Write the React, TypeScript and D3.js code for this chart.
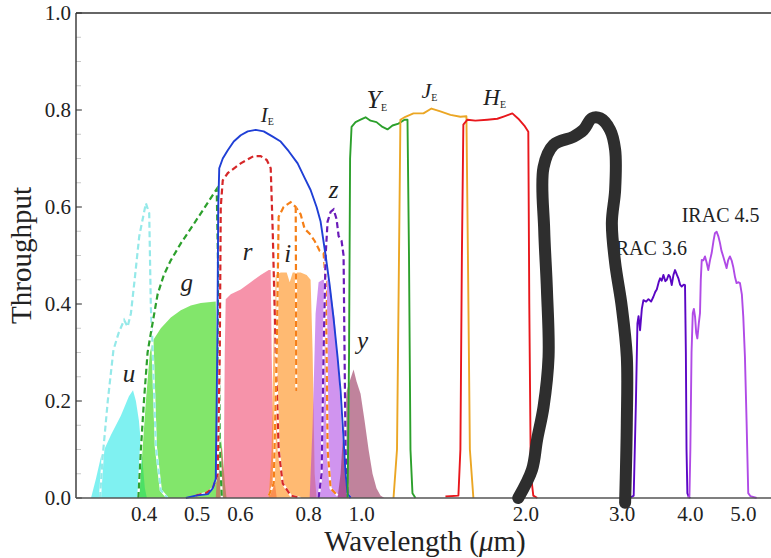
import * as d3 from 'd3'

type Pt = [number, number]

// filter curves: [wavelength (µm), throughput]
const uFill: Pt[] = [[0.3196, 0], [0.3264, 0.04], [0.3333, 0.085], [0.3476, 0.13], [0.3626, 0.17], [0.375, 0.21], [0.3815, 0.222], [0.3862, 0.2], [0.3911, 0.16], [0.3961, 0.09], [0.4011, 0.02], [0.4045, 0]]
const uDash: Pt[] = [[0.3319, 0], [0.3357, 0.085], [0.343, 0.2], [0.3513, 0.305], [0.359, 0.34], [0.3675, 0.367], [0.3729, 0.353], [0.3782, 0.381], [0.385, 0.46], [0.3916, 0.539], [0.4028, 0.608], [0.4085, 0.587], [0.4113, 0.394], [0.4144, 0.312], [0.4201, 0.106], [0.429, 0.016], [0.4413, 0]]
const gFill: Pt[] = [[0.3902, 0], [0.3961, 0.08], [0.4028, 0.2], [0.4097, 0.3], [0.4149, 0.325], [0.429, 0.35], [0.4474, 0.372], [0.4667, 0.387], [0.4868, 0.397], [0.5077, 0.402], [0.5295, 0.404], [0.5408, 0.405], [0.5454, 0.2], [0.55, 0.14], [0.556, 0.1], [0.562, 0.03], [0.566, 0]]
const gDash: Pt[] = [[0.3902, 0], [0.3944, 0.1], [0.3995, 0.2], [0.4057, 0.3], [0.4113, 0.34], [0.4232, 0.42], [0.4345, 0.46], [0.4474, 0.49], [0.4667, 0.525], [0.493, 0.565], [0.5223, 0.608], [0.543, 0.637], [0.5477, 0.4], [0.55, 0.1], [0.5548, 0]]
const rFill: Pt[] = [[0.5408, 0], [0.5477, 0.12], [0.555, 0.1], [0.5594, 0.05], [0.5617, 0.3], [0.564, 0.41], [0.5761, 0.42], [0.6008, 0.43], [0.6266, 0.445], [0.6535, 0.46], [0.6761, 0.47], [0.6818, 0.47], [0.6846, 0.3], [0.6905, 0.05], [0.6994, 0]]
const rDash: Pt[] = [[0.4971, 0.005], [0.5186, 0.01], [0.534, 0.02], [0.5454, 0.05], [0.55, 0.3], [0.5523, 0.6], [0.557, 0.655], [0.5689, 0.67], [0.6008, 0.69], [0.6346, 0.705], [0.6535, 0.705], [0.6706, 0.697], [0.6818, 0.68], [0.6876, 0.55], [0.6964, 0.3], [0.705, 0.1], [0.7171, 0.03], [0.7417, 0.005], [0.7735, 0]]
const iE: Pt[] = [[0.4767, 0], [0.4971, 0.005], [0.5231, 0.008], [0.534, 0.02], [0.5408, 0.04], [0.5442, 0.3], [0.5465, 0.6], [0.5488, 0.68], [0.557, 0.7], [0.5689, 0.717], [0.5834, 0.735], [0.6008, 0.748], [0.6188, 0.756], [0.6401, 0.759], [0.6619, 0.756], [0.6876, 0.745], [0.7111, 0.735], [0.7355, 0.715], [0.7638, 0.69], [0.7866, 0.66], [0.8067, 0.635], [0.8273, 0.6], [0.8414, 0.57], [0.8594, 0.5], [0.874, 0.44], [0.8888, 0.37], [0.9039, 0.29], [0.9155, 0.22], [0.927, 0.12], [0.9348, 0.05], [0.9428, 0.01], [0.9548, 0]]
const iFill: Pt[] = [[0.6761, 0], [0.6846, 0.1], [0.6905, 0.35], [0.6964, 0.46], [0.7111, 0.465], [0.7293, 0.465], [0.7387, 0.445], [0.7481, 0.465], [0.7735, 0.465], [0.7933, 0.46], [0.8067, 0.45], [0.8136, 0.3], [0.8206, 0.05], [0.8273, 0]]
const iDash: Pt[] = [[0.6761, 0.005], [0.6905, 0.03], [0.6994, 0.3], [0.705, 0.58], [0.7199, 0.6], [0.7417, 0.61], [0.7576, 0.6], [0.7735, 0.585], [0.7866, 0.555], [0.8034, 0.545], [0.8206, 0.53], [0.8379, 0.51], [0.852, 0.505], [0.8594, 0.45], [0.863, 0.3], [0.8666, 0.1], [0.8777, 0.02], [0.9039, 0.005]]
const iDashInner: Pt[] = [[0.7576, 0.6], [0.7585, 0.45], [0.759, 0.3], [0.7595, 0.22]]
const zFill: Pt[] = [[0.8034, 0], [0.8136, 0.15], [0.8238, 0.38], [0.8343, 0.445], [0.8486, 0.45], [0.8666, 0.45], [0.8777, 0.43], [0.8926, 0.37], [0.9078, 0.26], [0.9192, 0.15], [0.9308, 0.05], [0.9428, 0]]
const zDash: Pt[] = [[0.8343, 0], [0.845, 0.05], [0.852, 0.3], [0.8594, 0.5], [0.8666, 0.57], [0.8777, 0.59], [0.8888, 0.595], [0.9, 0.575], [0.9078, 0.54], [0.9192, 0.53], [0.927, 0.5], [0.9308, 0.3], [0.9348, 0.1], [0.9428, 0.01], [0.9548, 0]]
const yFill: Pt[] = [[0.9039, 0], [0.9155, 0.05], [0.927, 0.15], [0.9388, 0.22], [0.9508, 0.24], [0.9669, 0.265], [0.9792, 0.24], [0.9958, 0.215], [1.0127, 0.16], [1.03, 0.1], [1.0474, 0.05], [1.065, 0.02], [1.083, 0.005], [1.1014, 0]]
const yE: Pt[] = [[0.9428, 0], [0.9487, 0.3], [0.9528, 0.7], [0.9587, 0.765], [0.975, 0.775], [0.9958, 0.78], [1.017, 0.785], [1.0387, 0.778], [1.065, 0.775], [1.0924, 0.765], [1.1155, 0.76], [1.1394, 0.768], [1.1685, 0.772], [1.1985, 0.78], [1.2137, 0.78], [1.2214, 0.5], [1.229, 0.1], [1.2394, 0.01], [1.2553, 0]]
const jE: Pt[] = [[1.1442, 0], [1.1612, 0.1], [1.1711, 0.5], [1.178, 0.78], [1.203, 0.786], [1.2447, 0.793], [1.2981, 0.793], [1.3428, 0.803], [1.394, 0.797], [1.4547, 0.79], [1.517, 0.786], [1.556, 0.787], [1.5659, 0.5], [1.5789, 0.1], [1.6024, 0]]
const hE: Pt[] = [[1.4243, 0.003], [1.5044, 0.005], [1.517, 0.1], [1.5266, 0.5], [1.536, 0.77], [1.5628, 0.78], [1.6155, 0.778], [1.6993, 0.78], [1.7727, 0.782], [1.8257, 0.787], [1.8885, 0.793], [1.9364, 0.782], [1.9861, 0.768], [2.0199, 0.755], [2.0283, 0.4], [2.0413, 0.05], [2.0628, 0.005], [2.0983, 0]]
const irac36: Pt[] = [[3.1, 0], [3.15, 0.005], [3.18, 0.2], [3.2, 0.36], [3.215, 0.375], [3.236, 0.346], [3.26, 0.39], [3.282, 0.408], [3.32, 0.405], [3.352, 0.41], [3.39, 0.405], [3.423, 0.415], [3.45, 0.425], [3.472, 0.43], [3.5, 0.445], [3.521, 0.453], [3.545, 0.448], [3.57, 0.46], [3.6, 0.447], [3.622, 0.45], [3.65, 0.46], [3.672, 0.456], [3.698, 0.439], [3.725, 0.46], [3.75, 0.47], [3.78, 0.46], [3.803, 0.453], [3.83, 0.44], [3.857, 0.436], [3.89, 0.44], [3.911, 0.439], [3.925, 0.3], [3.936, 0.1], [3.95, 0.01], [3.97, 0.003], [4.0, 0]]
const irac45: Pt[] = [[3.96, 0], [3.985, 0.005], [4.0, 0.1], [4.02, 0.3], [4.041, 0.381], [4.06, 0.39], [4.08, 0.374], [4.1, 0.34], [4.12, 0.329], [4.145, 0.36], [4.166, 0.381], [4.18, 0.45], [4.197, 0.491], [4.225, 0.49], [4.255, 0.498], [4.285, 0.485], [4.314, 0.47], [4.345, 0.49], [4.376, 0.505], [4.41, 0.53], [4.437, 0.546], [4.469, 0.549], [4.5, 0.54], [4.532, 0.526], [4.56, 0.51], [4.595, 0.498], [4.63, 0.485], [4.661, 0.474], [4.69, 0.49], [4.726, 0.498], [4.76, 0.49], [4.792, 0.477], [4.83, 0.455], [4.861, 0.443], [4.9, 0.445], [4.931, 0.443], [4.97, 0.42], [5.0, 0.374], [5.035, 0.291], [5.071, 0.154], [5.106, 0.01], [5.15, 0.004], [5.29, 0]]
// hand-drawn overlay stroke
const scribble: Pt[] = [[1.936, 0], [2.051, 0.058], [2.096, 0.12], [2.154, 0.188], [2.2, 0.291], [2.185, 0.429], [2.16, 0.553], [2.154, 0.682], [2.247, 0.728], [2.444, 0.745], [2.549, 0.759], [2.641, 0.783], [2.735, 0.783], [2.852, 0.759], [2.913, 0.718], [2.913, 0.635], [2.873, 0.567], [2.913, 0.485], [2.996, 0.394], [3.06, 0.291], [3.06, 0.155], [3.038, -0.01]]

const xTicks = [0.4, 0.5, 0.6, 0.8, 1.0, 2.0, 3.0, 4.0, 5.0]
const yTicks = [0, 0.2, 0.4, 0.6, 0.8, 1.0]

const W = 771, H = 558
const M = { left: 76, top: 13, right: 771, bottom: 498 }
const FONT = 'Liberation Serif, DejaVu Serif, serif'

export default function App() {
  const x = d3.scaleLog().domain([0.3, 5.62]).range([M.left, M.right])
  const y = d3.scaleLinear().domain([0, 1]).range([M.bottom, M.top])
  const line = d3.line<Pt>().x(d => x(d[0])).y(d => y(d[1]))
  const area = d3.area<Pt>().x(d => x(d[0])).y0(y(0)).y1(d => y(d[1]))
  const smooth = d3.line<Pt>().x(d => x(d[0])).y(d => y(d[1])).curve(d3.curveCatmullRom.alpha(0.5))
  const minor = d3.range(0, 1.001, 0.05)

  const fills = [
    { d: uFill, c: 'rgb(0,228,228)', o: 0.5 },
    { d: gFill, c: 'rgb(40,212,0)', o: 0.58 },
    { d: rFill, c: 'rgb(238,48,92)', o: 0.52 },
    { d: iFill, c: 'rgb(255,140,20)', o: 0.6 },
    { d: zFill, c: 'rgb(170,60,225)', o: 0.55 },
    { d: yFill, c: 'rgb(140,30,75)', o: 0.55 },
  ]
  const dashed = [
    { d: uDash, c: '#95e9e9' },
    { d: gDash, c: '#2ca02c' },
    { d: rDash, c: '#d62728' },
    { d: iDash, c: '#f57f17' },
    { d: iDashInner, c: '#f57f17' },
    { d: zDash, c: '#6a1bb8' },
  ]
  const solid = [
    { d: iE, c: '#1f3fd6' },
    { d: yE, c: '#2ca02c' },
    { d: jE, c: '#eba624' },
    { d: hE, c: '#e8171c' },
    { d: irac36, c: '#5a06c4' },
    { d: irac45, c: '#b04ae6' },
  ]
  const bandLabels = [
    { t: 'u', l: 0.375, v: 0.239 },
    { t: 'g', l: 0.4786, v: 0.427 },
    { t: 'r', l: 0.6188, v: 0.491 },
    { t: 'i', l: 0.7325, v: 0.487 },
    { t: 'z', l: 0.8888, v: 0.619 },
    { t: 'y', l: 1.004, v: 0.307 },
  ]
  const euclid = [
    { t: 'I', l: 0.6535, v: 0.775, s: 21 },
    { t: 'Y', l: 1.021, v: 0.804, s: 26 },
    { t: 'J', l: 1.287, v: 0.825, s: 22 },
    { t: 'H', l: 1.671, v: 0.81, s: 23 },
  ]

  return (
    <div style={{ position: 'absolute', left: 0, top: 0, width: W, height: H, background: '#fff' }}>
      <svg width={W} height={H} style={{ display: 'block' }} fontFamily={FONT}>
        {fills.map((f, i) => (
          <path key={'f' + i} d={area(f.d) || ''} fill={f.c} fillOpacity={f.o} />
        ))}
        {dashed.map((f, i) => (
          <g key={'d' + i}>
            <path d={line(f.d) || ''} fill="none" stroke="#fff" strokeWidth={2.2} />
            <path d={line(f.d) || ''} fill="none" stroke={f.c} strokeWidth={2.2} strokeDasharray="6,3.5" />
          </g>
        ))}
        {solid.map((f, i) => (
          <path key={'s' + i} d={line(f.d) || ''} fill="none" stroke={f.c} strokeWidth={1.9} strokeLinejoin="round" />
        ))}

        {/* axes */}
        {minor.map(v => (
          <line key={'m' + v} x1={M.left} x2={M.left + 5} y1={y(v)} y2={y(v)} stroke="#c8c8c8" strokeWidth={1} />
        ))}
        {yTicks.map(v => (
          <g key={'y' + v}>
            <line x1={M.left} x2={M.left + 6} y1={y(v)} y2={y(v)} stroke="#444" strokeWidth={1} />
            <text x={M.left - 5} y={y(v) + 7} textAnchor="end" fontSize={21} fill="#222" fontFamily={FONT}>{v.toFixed(1)}</text>
          </g>
        ))}
        {xTicks.map(v => (
          <text key={'x' + v} x={x(v)} y={521} textAnchor="middle" fontSize={21} fill="#222" fontFamily={FONT}>{v.toFixed(1)}</text>
        ))}
        <line x1={M.left} x2={M.left} y1={M.top} y2={M.bottom} stroke="#333" strokeWidth={1.4} />
        <line x1={M.left} x2={M.right} y1={M.top} y2={M.top} stroke="#333" strokeWidth={1.4} />
        <line x1={M.left} x2={M.right} y1={M.bottom} y2={M.bottom} stroke="#555" strokeWidth={1.4} />

        <text x={425} y={551} textAnchor="middle" fontSize={29} fill="#222" fontFamily={FONT}>
          Wavelength (<tspan fontStyle="italic">μ</tspan>m)
        </text>
        <text transform={`translate(31,${(M.top + M.bottom) / 2}) rotate(-90)`} textAnchor="middle" fontSize={29} fill="#222" fontFamily={FONT}>
          Throughput
        </text>

        {bandLabels.map(b => (
          <text key={b.t} x={x(b.l)} y={y(b.v)} textAnchor="middle" fontSize={25} fontStyle="italic" fill="#222" fontFamily={FONT}>{b.t}</text>
        ))}
        {euclid.map(b => (
          <text key={b.t} x={x(b.l)} y={y(b.v)} fontSize={b.s} fill="#222" fontFamily={FONT}>
            <tspan fontStyle="italic">{b.t}</tspan>
            <tspan fontSize={10} dy={3}>E</tspan>
          </text>
        ))}
        <text x={x(2.84)} y={y(0.501)} fontSize={20} fill="#222" fontFamily={FONT}>IRAC 3.6</text>
        <text x={x(3.857)} y={y(0.57)} fontSize={20} fill="#222" fontFamily={FONT}>IRAC 4.5</text>

        <path d={smooth(scribble) || ''} fill="none" stroke="#2e2e2e" strokeWidth={12} strokeLinecap="round" strokeLinejoin="round" />
      </svg>
    </div>
  )
}
